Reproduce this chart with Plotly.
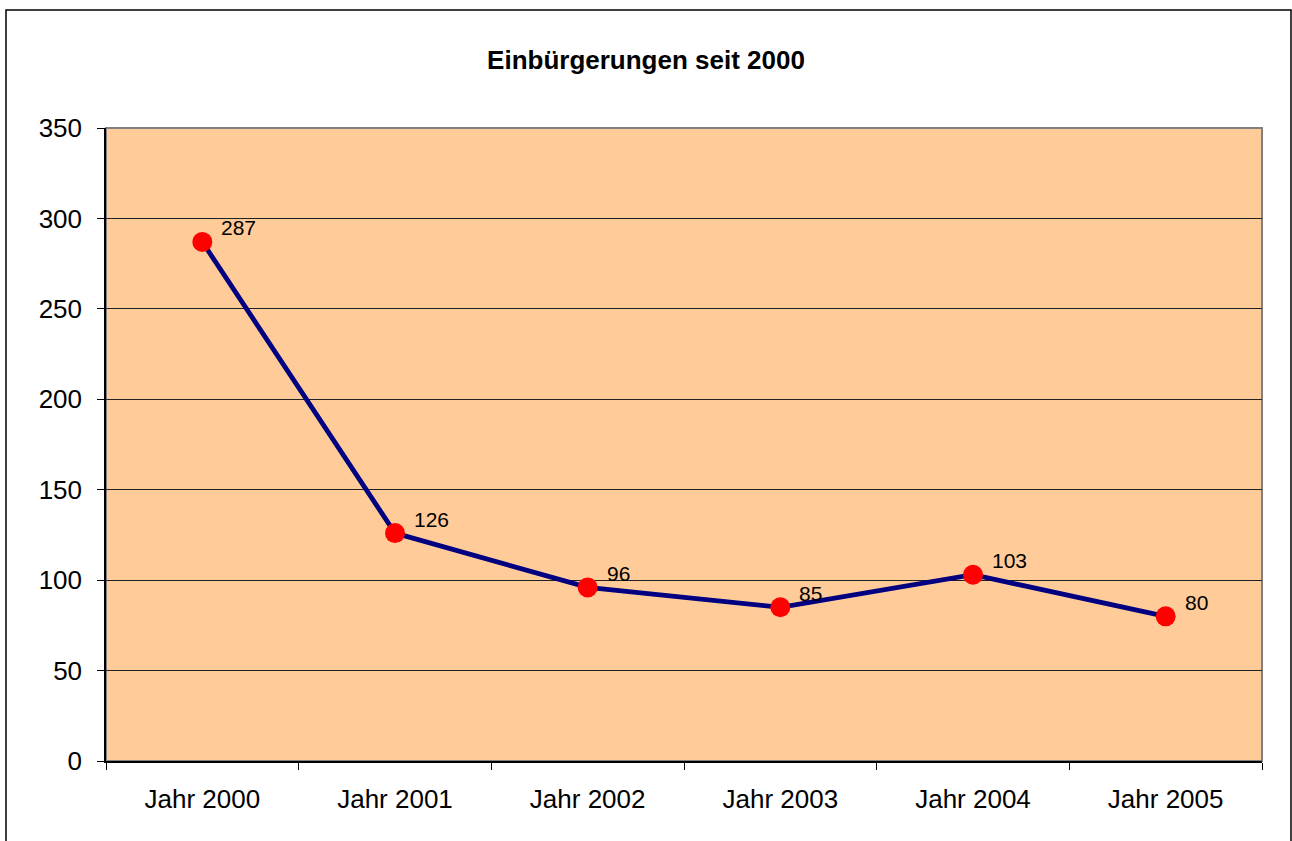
import plotly.graph_objects as go

# Data
YEARS = ["Jahr 2000", "Jahr 2001", "Jahr 2002", "Jahr 2003", "Jahr 2004", "Jahr 2005"]
COUNTS = [287, 126, 96, 85, 103, 80]
TITLE = "Einbürgerungen seit 2000"

W, H = 1292, 841
L, R, T, B = 106, 30, 128, 80
pw, ph = W - L - R, H - T - B
FONT = "Liberation Sans, Arial"

fig = go.Figure()

fig.add_trace(go.Scatter(
    x=YEARS,
    y=COUNTS,
    mode="lines+markers",
    line=dict(color="#000080", width=4.8),
    marker=dict(color="#FF0000", size=20, line=dict(width=0)),
    showlegend=False,
    hoverinfo="x+y",
))

# value labels, up and right of each point
for x, v in zip(YEARS, COUNTS):
    fig.add_annotation(
        x=x, y=v, text=str(v), showarrow=False,
        xanchor="left", yanchor="middle", xshift=17, yshift=14,
        font=dict(family=FONT, size=21, color="#000000"),
    )

# gray plot-area border (top/right)
fig.add_shape(type="rect", xref="paper", yref="paper", x0=0, x1=1, y0=0, y1=1,
              line=dict(color="#808080", width=2), layer="between")
# outer chart border
fig.add_shape(type="rect", xref="paper", yref="paper",
              x0=(6 - L) / pw, x1=(W - 1 - L) / pw,
              y0=-(H + 5 - T - ph) / ph, y1=(T + ph - 10) / ph,
              line=dict(color="#000000", width=1.5), layer="below")

fig.update_xaxes(
    type="category",
    range=[-0.5, len(YEARS) - 0.5],
    tickson="boundaries",
    ticks="outside", ticklen=7, tickcolor="#000000",
    showline=True, linecolor="#000000", linewidth=1.5,
    showgrid=False,
    tickfont=dict(family=FONT, size=26, color="#000000"),
    ticklabelstandoff=14,
)
fig.update_yaxes(
    range=[0, 350], dtick=50,
    ticks="outside", ticklen=7, tickcolor="#000000",
    showline=True, linecolor="#000000", linewidth=1.5,
    showgrid=True, gridcolor="#222222", gridwidth=1,
    zeroline=False,
    tickfont=dict(family=FONT, size=26, color="#000000"),
    ticklabelstandoff=10,
)

fig.update_layout(
    title=dict(text=f"<b>{TITLE}</b>", x=0.5, xanchor="center", y=1 - 60 / H, yanchor="middle",
               font=dict(family=FONT, size=26, color="#000000")),
    width=W, height=H,
    margin=dict(l=L, r=R, t=T, b=B),
    plot_bgcolor="#FFCC99",
    paper_bgcolor="#FFFFFF",
)

fig.write_html("out.html", config={"displayModeBar": False},
               post_script="document.body.style.margin='0';")
